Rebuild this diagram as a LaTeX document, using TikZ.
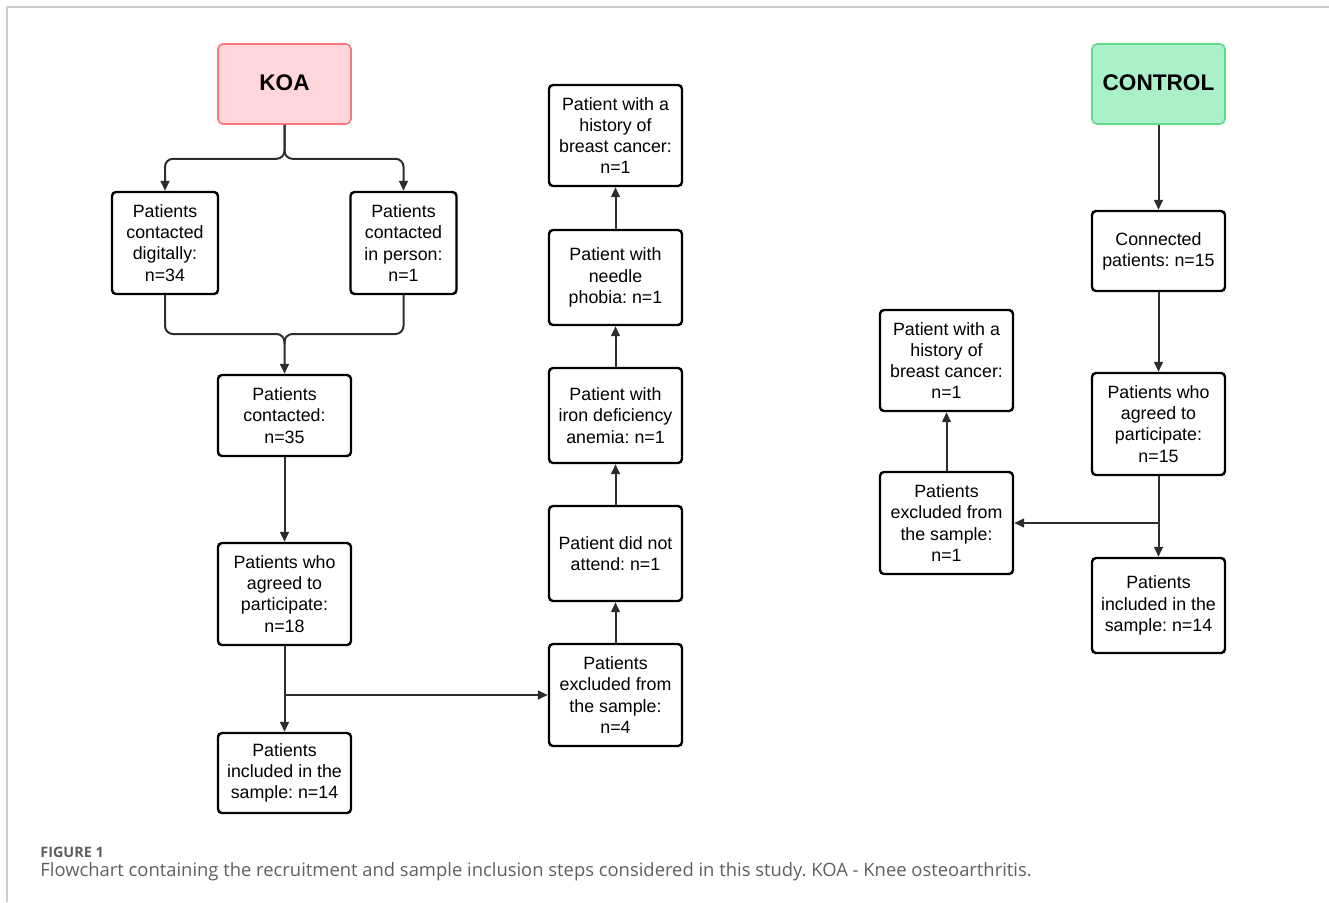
\documentclass[tikz,border=0pt]{standalone}
\usepackage{fontspec}
\setmainfont{Liberation Sans}
\newfontfamily\capfont{Open Sans}
\usetikzlibrary{arrows.meta}
\definecolor{koafill}{RGB}{255,214,218}
\definecolor{koaline}{RGB}{250,120,128}
\definecolor{ctrlfill}{RGB}{170,240,200}
\definecolor{ctrlline}{RGB}{100,218,140}
\definecolor{linkgray}{RGB}{45,45,45}
\definecolor{framegray}{RGB}{205,205,205}
\definecolor{capgray}{RGB}{95,95,95}
\frenchspacing

\begin{document}
\begin{tikzpicture}[x=0.5pt, y=-0.5pt,
    box/.style={draw, line width=1.2pt, rounded corners=2pt, align=center,
        font=\fontsize{8.9}{10.6}\selectfont, minimum width=66.5pt, inner sep=1pt},
    narrowbox/.style={box, minimum width=53pt},
    groupbox/.style={draw, line width=0.8pt, rounded corners=2.5pt, minimum width=66.5pt,
        minimum height=40pt, font=\bfseries\fontsize{11.3}{14}\selectfont},
    link/.style={draw=linkgray, line width=1pt, -{Triangle[length=5pt,width=4.4pt]}},
    plain/.style={draw=linkgray, line width=1pt}]
    \useasboundingbox (0,0) rectangle (1329,902);
    \draw [framegray, line width=0.75pt] (1329,7) -- (7,7) -- (7,902);

    % KOA side
    \node [groupbox, fill=koafill, draw=koaline] (koa) at (284.5,84) {\raisebox{1pt}{KOA}};
    \node [narrowbox, minimum height=51pt] (digital) at (165,243) {Patients\\contacted\\digitally:\\n=34};
    \node [narrowbox, minimum height=51pt] (person) at (403.5,243) {Patients\\contacted\\in person:\\n=1};
    \node [box, minimum height=40.5pt] (contacted) at (284.5,415.5) {Patients\\contacted:\\n=35};
    \node [box, minimum height=51pt] (agreed) at (284.5,594) {Patients who\\agreed to\\participate:\\n=18};
    \node [box, minimum height=40pt] (included) at (284.5,773) {Patients\\included in the\\sample: n=14};
    \node [box, minimum height=51pt] (excluded) at (615.5,695) {Patients\\excluded from\\the sample:\\n=4};
    \node [box, minimum height=47.5pt] (absent) at (615.5,553.5) {Patient did not\\attend: n=1};
    \node [box, minimum height=47.5pt] (iron) at (615.5,415.5) {Patient with\\iron deficiency\\anemia: n=1};
    \node [box, minimum height=47.5pt] (needle) at (615.5,277.5) {Patient with\\needle\\phobia: n=1};
    \node [box, minimum height=50.5pt] (cancer) at (615.5,135.5) {Patient with a\\history of\\breast cancer:\\n=1};

    \coordinate (merge) at (284.5,334);
    \coordinate (split) at (agreed.south |- excluded.west);
    \draw [link, rounded corners=4pt] (koa.south) -- ++(0,34) -| (digital.north);
    \draw [link, rounded corners=4pt] (koa.south) -- ++(0,34) -| (person.north);
    \draw [link, rounded corners=4pt] (digital.south) |- (merge) -- (contacted.north);
    \draw [plain, rounded corners=4pt] (person.south) |- (merge) -- ++(0,10);
    \draw [link] (contacted) -- (agreed);
    \draw [link] (agreed) -- (included);
    \draw [link] (split) -- (excluded.west);
    \draw [link] (excluded) -- (absent);
    \draw [link] (absent) -- (iron);
    \draw [link] (iron) -- (needle);
    \draw [link] (needle) -- (cancer);

    % CONTROL side
    \node [groupbox, fill=ctrlfill, draw=ctrlline] (control) at (1158.5,84) {\raisebox{1pt}{CONTROL}};
    \node [box, minimum height=40pt] (connected) at (1158.5,251) {Connected\\patients: n=15};
    \node [box, minimum height=51pt] (cagreed) at (1158.5,424) {Patients who\\agreed to\\participate:\\n=15};
    \node [box, minimum height=47.5pt] (cincluded) at (1158.5,605.5) {Patients\\included in the\\sample: n=14};
    \node [box, minimum height=51pt] (cexcluded) at (946.5,523) {Patients\\excluded from\\the sample:\\n=1};
    \node [box, minimum height=50.5pt] (ccancer) at (946.5,360.5) {Patient with a\\history of\\breast cancer:\\n=1};

    \coordinate (csplit) at (cagreed.south |- cexcluded.east);
    \draw [link] (control) -- (connected);
    \draw [link] (connected) -- (cagreed);
    \draw [link] (cagreed) -- (cincluded);
    \draw [link] (csplit) -- (cexcluded.east);
    \draw [link] (cexcluded) -- (ccancer);

    % caption
    \node [anchor=base west, inner sep=0pt, text=capgray, font=\capfont\bfseries\fontsize{7.2}{8}\selectfont] (figlabel) at (40,857) {FIGURE 1};
    \node [anchor=base west, inner sep=0pt, text=capgray, font=\capfont\fontsize{9.2}{12}\selectfont] (figtext) at (40,876) {Flowchart containing the recruitment and sample inclusion steps considered in this study. KOA - Knee osteoarthritis.};
\end{tikzpicture}
\end{document}
